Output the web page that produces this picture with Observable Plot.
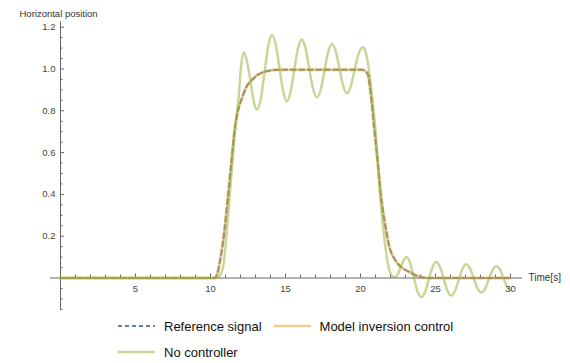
<!DOCTYPE html>
<html><head><meta charset="utf-8">
<script src="https://cdn.jsdelivr.net/npm/d3@7"></script>
<script src="https://cdn.jsdelivr.net/npm/@observablehq/plot@0.6"></script>
<style>
body{margin:0;background:#fff;font-family:"Liberation Sans",Arial,sans-serif;}
#legend{padding-left:118px;width:352px;display:flex;flex-wrap:wrap;column-gap:12px;font-size:13px;color:#111;}
.item{display:flex;align-items:center;height:26px;}
.item svg{margin-right:9px;display:block;}
</style></head><body><div id="chart"></div><div id="legend"></div>
<script>
// Reference signal (time [s], horizontal position)
const refTimes  = [0, 10.27, 10.45, 10.6, 10.93, 11.16, 11.38, 11.6, 11.8, 12.11, 12.4, 12.71, 13.1, 13.49, 14.0, 14.5, 20.1, 20.3, 20.5, 20.71, 20.93, 21.16, 21.38, 21.71, 21.93, 22.2, 22.49, 22.9, 23.27, 23.7, 24.16, 24.6, 30];
const refValues = [0, 0, 0.02, 0.068, 0.228, 0.387, 0.545, 0.704, 0.79, 0.863, 0.915, 0.944, 0.97, 0.984, 0.993, 0.996, 0.996, 0.991, 0.972, 0.863, 0.704, 0.545, 0.387, 0.228, 0.147, 0.1, 0.068, 0.043, 0.028, 0.012, 0.003, 0, 0];
// Model inversion control output (coincides with the reference)
const modelTimes  = refTimes;
const modelValues = [0, 0, 0.02, 0.068, 0.228, 0.387, 0.545, 0.704, 0.79, 0.863, 0.915, 0.944, 0.97, 0.984, 0.993, 0.996, 0.996, 0.991, 0.972, 0.863, 0.704, 0.545, 0.387, 0.228, 0.147, 0.1, 0.068, 0.043, 0.028, 0.012, 0.003, 0, 0];
// No controller
const noCtrlTimes  = [0, 10.4, 10.6, 10.87, 11.09, 11.27, 11.45, 11.63, 11.87, 12.05, 12.22, 12.45, 12.67, 12.9, 13.09, 13.35, 13.6, 13.85, 14.1, 14.35, 14.6, 14.85, 15.08, 15.33, 15.58, 15.83, 16.08, 16.33, 16.58, 16.84, 17.1, 17.35, 17.6, 17.85, 18.1, 18.35, 18.6, 18.85, 19.1, 19.35, 19.6, 19.87, 20.15, 20.35, 20.6, 20.8, 21.0, 21.16, 21.31, 21.53, 21.82, 22.05, 22.27, 22.5, 22.75, 23.05, 23.3, 23.55, 23.8, 24.05, 24.3, 24.55, 24.8, 25.05, 25.3, 25.55, 25.8, 26.05, 26.3, 26.55, 26.8, 27.05, 27.3, 27.55, 27.8, 28.05, 28.3, 28.55, 28.8, 29.05, 29.3, 29.55, 29.8, 30];
const noCtrlValues = [0, 0, 0.01, 0.065, 0.227, 0.386, 0.545, 0.703, 0.862, 1.02, 1.08, 1.03, 0.94, 0.84, 0.806, 0.857, 0.984, 1.11, 1.163, 1.116, 1.004, 0.892, 0.845, 0.888, 0.993, 1.098, 1.141, 1.101, 1.003, 0.905, 0.865, 0.902, 0.992, 1.083, 1.12, 1.085, 1.002, 0.918, 0.884, 0.916, 0.994, 1.072, 1.104, 1.08, 0.977, 0.85, 0.706, 0.55, 0.39, 0.23, 0.07, 0.015, 0.003, 0.02, 0.065, 0.1, 0.074, 0.005, -0.064, -0.092, -0.067, -0.008, 0.051, 0.076, 0.053, -0.004, -0.061, -0.084, -0.062, -0.009, 0.044, 0.066, 0.046, -0.002, -0.05, -0.07, -0.052, -0.007, 0.038, 0.056, 0.04, -0.004, -0.045, -0.058];

const xMajor = [5, 10, 15, 20, 25, 30];
const yMajor = [0.2, 0.4, 0.6, 0.8, 1.0, 1.2];
const seriesNames = ["Reference signal", "Model inversion control", "No controller"];
const yLabel = "Horizontal position";
const xLabel = "Time[s]";

const colors = ["#5E81B5", "#E19C24", "#8FB032"];
const toRows = (ts, vs) => ts.map((t, i) => ({t, v: vs[i]}));
const refData = toRows(refTimes, refValues);
const modelData = toRows(modelTimes, modelValues);
const noCtrlData = toRows(noCtrlTimes, noCtrlValues);

const W = 570, H = 313, mt = 26.7, mb = 35.5, ml = 60, mr = 60;
const pxY = (H - mt - mb) / 1.2;   // pixels per y unit
const pxX = (W - ml - mr) / 30;    // pixels per x unit
const xMinor = d3.range(1, 31).filter(d => d % 5 !== 0);
const yMinor = d3.range(-3, 25).map(k => k * 0.05).filter(d => Math.abs(Math.round(d * 5) - d * 5) > 1e-6);
const axisColor = "#666";
const labelColor = "#444";

const chart = Plot.plot({
  width: W, height: H, marginLeft: ml, marginRight: mr, marginTop: mt, marginBottom: mb,
  x: {domain: [0, 30], axis: null},
  y: {domain: [0, 1.2], axis: null},
  style: {fontFamily: "'Liberation Sans', Arial, sans-serif", fontSize: "9.5px", background: "white", overflow: "visible"},
  marks: [
    Plot.ruleY([0], {x1: -0.67, x2: 30.8, stroke: axisColor, strokeWidth: 1}),
    Plot.ruleX([0], {y1: -0.152, y2: 1.225, stroke: axisColor, strokeWidth: 1}),
    Plot.ruleX(xMajor, {x: d => d, y1: 0, y2: 4 / pxY, stroke: axisColor}),
    Plot.ruleX(xMinor, {x: d => d, y1: 0, y2: 3 / pxY, stroke: axisColor}),
    Plot.ruleY(yMajor, {y: d => d, x1: 0, x2: 4 / pxX, stroke: axisColor}),
    Plot.ruleY(yMinor, {y: d => d, x1: 0, x2: 2.5 / pxX, stroke: axisColor}),
    Plot.line(refData, {x: "t", y: "v", stroke: colors[0], strokeWidth: 2, strokeDasharray: "5,3.5", curve: "monotone-x"}),
    Plot.line(modelData, {x: "t", y: "v", stroke: colors[1], strokeOpacity: 0.5, strokeWidth: 3, curve: "monotone-x"}),
    Plot.line(noCtrlData, {x: "t", y: "v", stroke: colors[2], strokeOpacity: 0.5, strokeWidth: 2.5, curve: "monotone-x"}),
    Plot.text(xMajor, {x: d => d, y: 0, dy: 10.5, text: d => String(d), fill: labelColor, textAnchor: "middle"}),
    Plot.text(yMajor, {x: 0, y: d => d, dx: -5, text: d => d3.format(".1f")(d), fill: labelColor, textAnchor: "end"}),
    Plot.text([xLabel], {x: 30, y: 0, dx: 18, text: d => d, fill: "#333", textAnchor: "start", fontSize: 10}),
    Plot.text([yLabel], {frameAnchor: "top-left", dx: -41, dy: -17, text: d => d, fill: "#333", textAnchor: "start"})
  ]
});
document.getElementById("chart").appendChild(chart);

const styles = [
  {dash: "4,3", op: 1, w: 2},
  {dash: null, op: 0.5, w: 2.5},
  {dash: null, op: 0.5, w: 2.5}
];
const legend = d3.select("#legend");
seriesNames.forEach((name, i) => {
  const item = legend.append("div").attr("class", "item");
  const svg = item.append("svg").attr("width", 37).attr("height", 6);
  svg.append("line").attr("x1", 0).attr("x2", 37).attr("y1", 3).attr("y2", 3)
    .attr("stroke", colors[i]).attr("stroke-width", styles[i].w)
    .attr("stroke-opacity", styles[i].op)
    .attr("stroke-dasharray", styles[i].dash);
  item.append("span").text(name);
});
</script></body></html>
